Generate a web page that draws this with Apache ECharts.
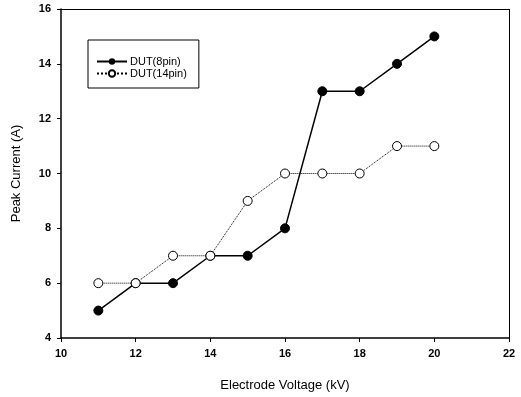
<!DOCTYPE html>
<html>
<head>
<meta charset="utf-8">
<script src="https://cdn.jsdelivr.net/npm/echarts@6/dist/echarts.min.js"></script>
<style>
  html, body { margin: 0; padding: 0; background: #fff; }
  #main { width: 521px; height: 397px; }
</style>
</head>
<body>
<div id="main"></div>
<script>
var voltage = [11, 12, 13, 14, 15, 16, 17, 18, 19, 20];
var dut8 = [5, 6, 6, 7, 7, 8, 13, 13, 14, 15];
var dut14 = [6, 6, 7, 7, 9, 10, 10, 10, 11, 11];

function pairs(xs, ys) {
    return xs.map(function (x, i) { return [x, ys[i]]; });
}

var myChart = echarts.init(document.getElementById('main'));
var option = {
    animation: false,
    textStyle: { fontFamily: 'Liberation Sans' },
    grid: { left: 61, right: 12, top: 9, bottom: 58 },
    legend: {
        orient: 'vertical',
        left: 88,
        top: 40,
        padding: [16, 12, 9, 8],
        itemGap: 1,
        itemWidth: 30,
        itemHeight: 8,
        borderColor: '#000',
        borderWidth: 1,
        textStyle: { color: '#000', fontSize: 11, padding: [0, 0, 0, -2] },
        data: ['DUT(8pin)', 'DUT(14pin)']
    },
    xAxis: {
        type: 'value',
        min: 10, max: 22, interval: 2,
        name: 'Electrode Voltage (kV)',
        nameLocation: 'middle',
        nameGap: 41,
        nameTextStyle: { color: '#000', fontSize: 13 },
        axisLine: { show: true, lineStyle: { color: '#000', width: 1.5 } },
        axisTick: { show: true, length: 4, lineStyle: { color: '#000' } },
        axisLabel: { color: '#000', fontSize: 11, fontWeight: 'bold', margin: 10 },
        splitLine: { show: false }
    },
    yAxis: {
        type: 'value',
        min: 4, max: 16, interval: 2,
        name: 'Peak Current (A)',
        nameLocation: 'middle',
        nameGap: 38,
        nameTextStyle: { color: '#000', fontSize: 13 },
        axisLine: { show: true, lineStyle: { color: '#000', width: 1.5 } },
        axisTick: { show: true, length: 4, lineStyle: { color: '#000' } },
        axisLabel: { color: '#000', fontSize: 11, fontWeight: 'bold', margin: 10 },
        splitLine: { show: false }
    },
    series: [
        {
            name: 'DUT(8pin)',
            type: 'line',
            data: pairs(voltage, dut8),
            symbol: 'circle',
            symbolSize: 9,
            itemStyle: { color: '#000', borderColor: '#000' },
            lineStyle: { color: '#000', width: 1.5 },
            markLine: {
                silent: true, symbol: 'none', label: { show: false },
                lineStyle: { color: '#000', width: 1, type: 'solid' },
                data: [[{ coord: [10, 16] }, { coord: [22, 16] }], [{ coord: [22, 4] }, { coord: [22, 16] }]]
            }
        },
        {
            name: 'DUT(14pin)',
            type: 'line',
            data: pairs(voltage, dut14),
            symbol: 'circle',
            symbolSize: 9,
            itemStyle: { color: '#fff', borderColor: '#000', borderWidth: 1 },
            lineStyle: { color: '#000', width: 1, type: 'dotted' }
        }
    ]
};
myChart.setOption(option);
</script>
</body>
</html>
